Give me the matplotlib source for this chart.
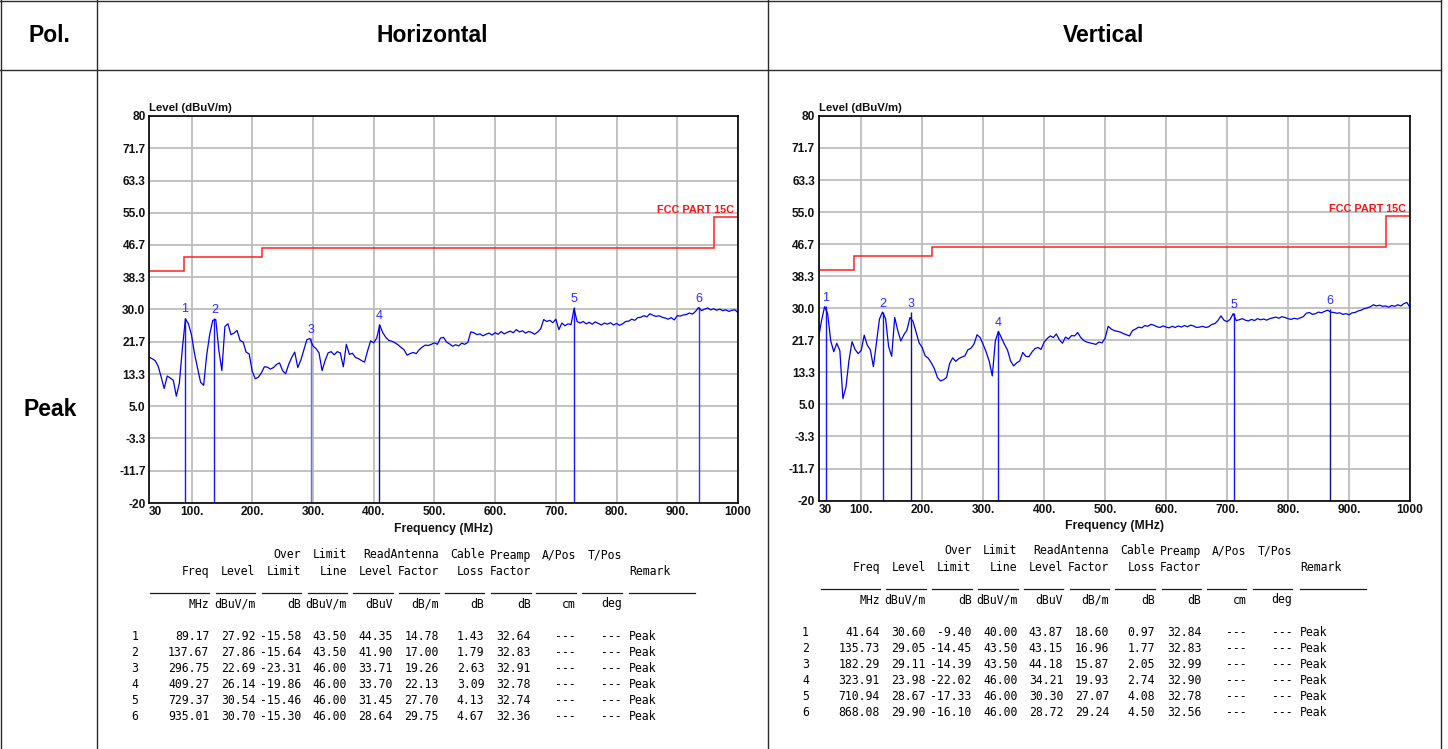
import numpy as np
import matplotlib
matplotlib.use("Agg")
import matplotlib.pyplot as plt
from matplotlib.lines import Line2D

# ---------------------------------------------------------------------------
# Data
# ---------------------------------------------------------------------------
# Sweep: 30 MHz .. 1000 MHz in 5 MHz steps
sweep_start, sweep_step = 30.0, 5.0

# Horizontal polarisation peak trace (dBuV/m)
trace_h = [
    17.7, 17.3, 16.8, 15.4, 12.6, 9.6, 12.8, 12.3, 11.7, 7.6,
    11.0, 20.0, 27.6, 26.3, 23.4, 18.6, 14.8, 11.2, 10.4, 18.2,
    23.6, 27.2, 27.4, 19.5, 14.2, 25.6, 26.3, 23.5, 23.9, 24.6,
    22.0, 21.6, 19.0, 18.5, 14.0, 12.1, 12.5, 13.6, 15.2, 15.1,
    14.6, 15.0, 15.8, 16.2, 14.2, 13.4, 15.8, 17.6, 19.0, 15.0,
    16.9, 19.6, 22.2, 22.5, 20.6, 19.9, 18.8, 14.2, 16.8, 18.8,
    19.1, 18.3, 19.1, 18.8, 15.2, 21.0, 18.4, 18.7, 17.6, 17.3,
    16.8, 16.4, 19.3, 21.9, 21.4, 22.6, 26.0, 24.0, 22.8, 22.0,
    21.8, 21.4, 20.9, 20.2, 19.6, 18.2, 18.6, 18.9, 18.6, 19.6,
    20.3, 20.8, 20.7, 21.0, 21.4, 21.0, 22.6, 22.8, 21.6, 21.1,
    20.5, 20.9, 20.6, 21.3, 21.0, 21.5, 24.2, 24.0, 23.5, 23.7,
    23.2, 23.6, 23.9, 23.4, 24.0, 23.6, 24.3, 23.7, 24.1, 24.4,
    24.0, 24.8, 24.2, 24.5, 23.9, 24.3, 24.1, 23.6, 24.2, 25.0,
    27.4, 26.9, 27.2, 26.6, 27.5, 24.8, 26.5, 25.8, 26.3, 26.1,
    30.2, 26.9, 26.5, 26.9, 26.3, 26.7, 26.2, 26.8, 26.4, 26.0,
    26.5, 26.2, 26.6, 26.0, 26.4, 25.9, 26.3, 26.9, 27.0, 27.5,
    27.2, 27.9, 28.0, 28.4, 28.1, 28.9, 28.5, 28.2, 28.4, 28.0,
    27.8, 27.5, 27.9, 27.3, 28.4, 28.3, 28.6, 28.7, 29.1, 28.8,
    29.5, 30.5, 29.7, 30.1, 30.4, 29.9, 30.2, 29.8, 30.1, 29.7,
    29.9, 29.5, 29.8, 29.9, 29.2,
]

# Vertical polarisation peak trace (dBuV/m)
trace_v = [
    22.3, 26.8, 30.4, 28.6, 21.6, 18.7, 20.9, 19.0, 6.5, 9.5,
    16.5, 21.3, 19.3, 18.2, 19.0, 23.0, 20.4, 19.2, 14.8, 21.0,
    27.2, 29.0, 27.3, 20.0, 17.5, 27.6, 24.2, 21.5, 23.1, 24.3,
    27.6, 26.6, 23.8, 21.0, 19.8, 17.6, 17.0, 15.8, 14.3, 12.0,
    11.1, 11.4, 12.0, 15.6, 17.1, 16.2, 16.9, 17.3, 17.6, 19.2,
    19.6, 20.7, 23.1, 22.4, 20.6, 18.6, 16.2, 12.4, 21.5, 24.0,
    22.3, 20.6, 19.1, 16.3, 15.0, 15.8, 16.3, 18.5, 17.5, 17.4,
    18.6, 19.5, 19.8, 19.3, 21.2, 22.1, 22.8, 22.4, 23.3, 21.8,
    20.9, 22.5, 22.0, 22.9, 22.8, 23.7, 22.4, 21.6, 21.2, 21.0,
    20.8, 20.6, 21.2, 21.0, 22.2, 25.3, 24.6, 24.2, 24.0, 23.8,
    23.4, 23.1, 22.8, 24.2, 24.6, 25.1, 24.9, 25.5, 25.3, 25.8,
    25.6, 25.2, 25.0, 25.4, 25.1, 24.9, 25.3, 25.0, 25.4, 25.1,
    25.5, 25.2, 25.6, 25.4, 25.0, 25.1, 25.3, 25.0, 25.2, 25.8,
    26.0, 26.8, 28.0, 26.9, 26.5, 27.1, 28.6, 26.8, 27.0, 27.3,
    26.9, 26.7, 27.1, 26.8, 27.3, 27.0, 27.2, 26.9, 27.3, 27.5,
    27.7, 27.4, 27.8, 27.6, 27.3, 27.1, 27.4, 27.2, 27.5, 27.8,
    28.7, 28.9, 28.4, 28.6, 29.0, 28.8, 29.2, 29.5, 29.0, 28.9,
    28.7, 28.8, 28.4, 28.6, 28.3, 28.8, 28.9, 29.3, 29.5, 29.9,
    30.1, 30.4, 30.9, 30.6, 30.8, 30.5, 30.6, 30.3, 30.7, 30.5,
    30.9, 30.6, 31.2, 31.5, 30.2,
]

# FCC Part 15C limit line
limit_edges = [30, 88, 216, 960, 1000]
limit_levels = [40.0, 43.5, 46.0, 54.0]

# Axis ticks
y_ticks = [80, 71.7, 63.3, 55.0, 46.7, 38.3, 30.0, 21.7, 13.3, 5.0, -3.3, -11.7, -20]
y_tick_labels = ["80", "71.7", "63.3", "55.0", "46.7", "38.3", "30.0", "21.7",
                 "13.3", "5.0", "-3.3", "-11.7", "-20"]
x_ticks = [30, 100, 200, 300, 400, 500, 600, 700, 800, 900, 1000]
x_tick_labels = ["30", "100.", "200.", "300.", "400.", "500.", "600.", "700.",
                 "800.", "900.", "1000"]

# Marker tables - Horizontal
freq_h = [89.17, 137.67, 296.75, 409.27, 729.37, 935.01]
level_h = [27.92, 27.86, 22.69, 26.14, 30.54, 30.70]
over_h = [-15.58, -15.64, -23.31, -19.86, -15.46, -15.30]
limitline_h = [43.50, 43.50, 46.00, 46.00, 46.00, 46.00]
read_h = [44.35, 41.90, 33.71, 33.70, 31.45, 28.64]
antenna_h = [14.78, 17.00, 19.26, 22.13, 27.70, 29.75]
cable_h = [1.43, 1.79, 2.63, 3.09, 4.13, 4.67]
preamp_h = [32.64, 32.83, 32.91, 32.78, 32.74, 32.36]

# Marker tables - Vertical
freq_v = [41.64, 135.73, 182.29, 323.91, 710.94, 868.08]
level_v = [30.60, 29.05, 29.11, 23.98, 28.67, 29.90]
over_v = [-9.40, -14.45, -14.39, -22.02, -17.33, -16.10]
limitline_v = [40.00, 43.50, 43.50, 46.00, 46.00, 46.00]
read_v = [43.87, 43.15, 44.18, 34.21, 30.30, 28.72]
antenna_v = [18.60, 16.96, 15.87, 19.93, 27.07, 29.24]
cable_v = [0.97, 1.77, 2.05, 2.74, 4.08, 4.50]
preamp_v = [32.84, 32.83, 32.99, 32.90, 32.78, 32.56]

header_row1 = ["", "", "Over", "Limit", "", "ReadAntenna", "Cable", "Preamp", "A/Pos", "T/Pos"]
header_row2 = ["Freq", "Level", "Limit", "Line", "Level", "Factor", "Loss", "Factor", "", ""]
unit_row = ["MHz", "dBuV/m", "dB", "dBuV/m", "dBuV", "dB/m", "dB", "dB", "cm", "deg"]

# ---------------------------------------------------------------------------
# Figure
# ---------------------------------------------------------------------------
W, H = 1448, 749
fig = plt.figure(figsize=(W / 100, H / 100), dpi=100)
fig.patch.set_facecolor("white")

NARROW = ["Liberation Sans Narrow", "Liberation Sans", "DejaVu Sans"]
SANS = ["Liberation Sans", "DejaVu Sans"]
MONO = ["DejaVu Sans Mono"]


def fx(x):
    return x / W


def fy(y):
    return 1 - y / H


def hline(x0, x1, y, **kw):
    fig.add_artist(Line2D([fx(x0), fx(x1)], [fy(y), fy(y)], transform=fig.transFigure, **kw))


def vline(x, y0, y1, **kw):
    fig.add_artist(Line2D([fx(x), fx(x)], [fy(y0), fy(y1)], transform=fig.transFigure, **kw))


# Outer grid of the report table
frame_kw = dict(color="#2b2b2b", lw=1.0)
hline(0, 1441, 0.5, **frame_kw)
hline(0, 1441, 70, **frame_kw)
for xb in (0.5, 97, 768, 1440.5):
    vline(xb, 0, H, **frame_kw)

head_kw = dict(ha="center", va="center", fontsize=16.5, fontweight="bold", family=SANS)
fig.text(fx(49), fy(35), "Pol.", **head_kw)
fig.text(fx(432), fy(35), "Horizontal", **head_kw)
fig.text(fx(1104), fy(35), "Vertical", **head_kw)
fig.text(fx(50), fy(410), "Peak", **head_kw)

sweep_freq = sweep_start + sweep_step * np.arange(len(trace_h))


def draw_chart(rect, trace, mk_freq, mk_level, mk_colors):
    x0, y0, x1, y1 = rect
    ax = fig.add_axes([fx(x0), fy(y1), (x1 - x0) / W, (y1 - y0) / H])
    ax.set_xlim(30, 1000)
    ax.set_ylim(-20, 80)
    ax.set_yticks(y_ticks)
    ax.set_yticklabels(y_tick_labels)
    ax.set_xticks(x_ticks)
    ax.set_xticklabels(x_tick_labels)
    ax.grid(True, color="#bdbdbd", lw=1.3, zorder=0)
    ax.set_axisbelow(True)
    ax.tick_params(length=0, pad=2.5)
    for lab in ax.get_xticklabels() + ax.get_yticklabels():
        lab.set_fontfamily(NARROW)
        lab.set_fontweight("bold")
        lab.set_fontsize(8.6)
        lab.set_color("#111111")
    ax.get_xticklabels()[0].set_ha("left")
    for sp in ax.spines.values():
        sp.set_color("black")
        sp.set_linewidth(1.2)
        sp.set_zorder(5)

    # limit line
    ax.stairs(limit_levels, limit_edges, color="#ff2020", lw=1.1, baseline=None, zorder=3)
    ax.annotate("FCC PART 15C", xy=(1000, limit_levels[-1]), xytext=(-3, 1.5),
                textcoords="offset points", ha="right", va="bottom",
                color="#ff1010", fontsize=7.8, fontweight="bold", family=NARROW)

    # markers
    ax.vlines(mk_freq, -20, mk_level, colors=mk_colors, lw=1.0, zorder=3)
    for i, (f, lv) in enumerate(zip(mk_freq, mk_level)):
        ax.annotate(str(i + 1), xy=(f, lv), xytext=(0, 1.5), textcoords="offset points",
                    ha="center", va="bottom", color="#2b2bff", fontsize=9, family=SANS)

    # measured trace
    ax.plot(sweep_freq, trace, color="#0000f0", lw=0.9, zorder=4)

    ax.text(0, 1.008, "Level (dBuV/m)", transform=ax.transAxes, ha="left", va="bottom",
            fontsize=8.2, fontweight="bold", family=NARROW, color="#111111")
    ax.text(0.5, -26 / (y1 - y0), "Frequency (MHz)", transform=ax.transAxes,
            ha="center", va="center", fontsize=8.8, fontweight="bold", family=NARROW,
            color="#111111")
    return ax


draw_chart((149, 116, 738, 503), trace_h, freq_h, level_h,
           ["#1515ff", "#1515ff", "#6a6aff", "#10108a", "#1515ff", "#3030ff"])
draw_chart((818.5, 116, 1410, 500.5), trace_v, freq_v, level_v,
           ["#1515ff", "#1515ff", "#10108a", "#1515ff", "#1515ff", "#10108a"])


def draw_table(dx, dy, cols):
    col_right = [209.3, 255.3, 301, 347, 392.7, 438.7, 484.3, 530.7, 575.7, 621.7]
    col_right = [c + dx for c in col_right]
    remark_x = 629.3 + dx
    index_x = 131.5 + dx
    tkw = dict(fontsize=8.3, family=MONO, color="#000000", va="center")

    for c, t in zip(col_right, header_row1):
        if t:
            fig.text(fx(c), fy(555 + dy), t, ha="right", **tkw)
    for c, t in zip(col_right, header_row2):
        if t:
            fig.text(fx(c), fy(571.7 + dy), t, ha="right", **tkw)
    fig.text(fx(remark_x), fy(571.7 + dy), "Remark", ha="left", **tkw)

    # column rules
    rule_kw = dict(color="#1a1a1a", lw=0.9)
    hline(150 + dx, col_right[0], 593.3 + dy, **rule_kw)
    for c in col_right[1:]:
        hline(c - 39.5, c, 593.3 + dy, **rule_kw)
    hline(remark_x, remark_x + 66, 593.3 + dy, **rule_kw)

    for c, t in zip(col_right, unit_row):
        fig.text(fx(c), fy(604 + dy), t, ha="right", **tkw)

    row_y = [636.7, 652.7, 668.7, 684.7, 700.7, 716.7]
    for r, yy in enumerate(row_y):
        fig.text(fx(index_x), fy(yy + dy), str(r + 1), ha="left", **tkw)
        vals = ["%.2f" % col[r] for col in cols] + ["---", "---"]
        for c, t in zip(col_right, vals):
            fig.text(fx(c), fy(yy + dy), t, ha="right", **tkw)
        fig.text(fx(remark_x), fy(yy + dy), "Peak", ha="left", **tkw)


draw_table(0, 0, [freq_h, level_h, over_h, limitline_h, read_h, antenna_h, cable_h, preamp_h])
draw_table(670.5, -4, [freq_v, level_v, over_v, limitline_v, read_v, antenna_v, cable_v, preamp_v])

fig.savefig("out.png", dpi=100, facecolor="white")
